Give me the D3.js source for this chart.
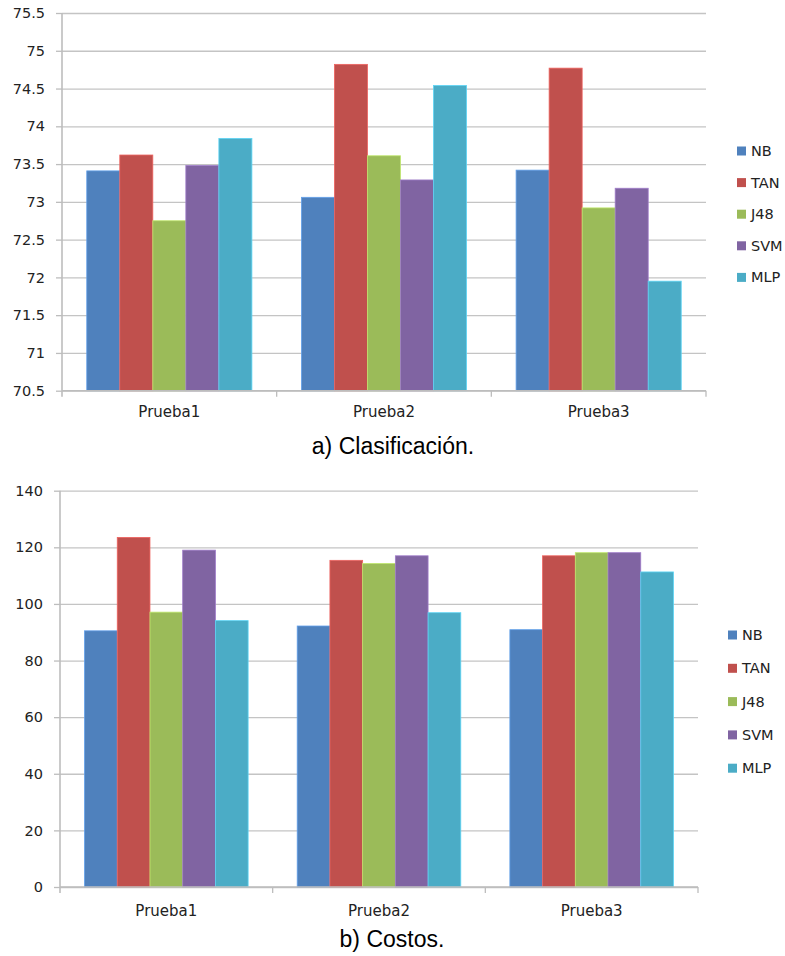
<!DOCTYPE html>
<html>
<head>
<meta charset="utf-8">
<script src="https://cdn.jsdelivr.net/npm/d3@7"></script>
<style>
  html, body { margin: 0; padding: 0; background: #fff; }
  svg { display: block; }
  .tick text { font-family: "DejaVu Sans", sans-serif; }
</style>
</head>
<body>
<svg id="chart" width="785" height="956"></svg>
<script>
// ---- Data ----
const categories = ["Prueba1", "Prueba2", "Prueba3"];
const seriesNames = ["NB", "TAN", "J48", "SVM", "MLP"];
const seriesColors = ["#4F81BD", "#C0504D", "#9BBB59", "#8064A2", "#4BACC6"];

// a) Clasificación
const clasifNB  = [73.41, 73.06, 73.42];
const clasifTAN = [73.62, 74.82, 74.77];
const clasifJ48 = [72.75, 73.61, 72.92];
const clasifSVM = [73.48, 73.29, 73.18];
const clasifMLP = [73.84, 74.54, 71.95];
const clasifTicks = [70.5, 71, 71.5, 72, 72.5, 73, 73.5, 74, 74.5, 75, 75.5];
const clasifTickLabels = ["70.5", "71", "71.5", "72", "72.5", "73", "73.5", "74", "74.5", "75", "75.5"];

// b) Costos
const costosNB  = [90.5, 92.2, 90.9];
const costosTAN = [123.5, 115.4, 117.0];
const costosJ48 = [97.1, 114.3, 118.1];
const costosSVM = [119.0, 117.0, 118.1];
const costosMLP = [94.1, 96.9, 111.3];
const costosTicks = [0, 20, 40, 60, 80, 100, 120, 140];
const costosTickLabels = ["0", "20", "40", "60", "80", "100", "120", "140"];

const captionA = "a) Clasificación.";
const captionB = "b) Costos.";

// ---- Drawing ----
const svg = d3.select("#chart");
const textColor = "#222";

function drawChart(opts) {
  const g = svg.append("g");
  const x0 = d3.scaleBand().domain(categories).range([opts.left, opts.right]).padding(0);
  const x1 = d3.scaleBand().domain(seriesNames).range([0, x0.bandwidth()])
    .paddingInner(0).paddingOuter(0.75);
  const y = d3.scaleLinear().domain(opts.domain).range([opts.bottom, opts.top]);

  // gridlines
  g.append("g")
    .attr("transform", `translate(${opts.left},0)`)
    .call(d3.axisLeft(y).tickValues(opts.ticks).tickSize(-(opts.right - opts.left)).tickFormat(""))
    .call(s => s.select(".domain").remove())
    .call(s => s.selectAll("line").attr("stroke", "#c4c4c4").attr("stroke-width", 1.3));

  // bars
  const seriesData = opts.values.map((vals, si) => ({ name: seriesNames[si], color: seriesColors[si], vals }));
  const groups = g.append("g").selectAll("g")
    .data(seriesData).join("g");
  groups.selectAll("rect")
    .data(d => d.vals.map((v, ci) => ({ v, cat: categories[ci], name: d.name, color: d.color })))
    .join("rect")
    .attr("x", d => x0(d.cat) + x1(d.name))
    .attr("width", x1.bandwidth())
    .attr("y", d => y(d.v))
    .attr("height", d => y(opts.domain[0]) - y(d.v))
    .attr("fill", d => d.color)
    .attr("stroke", d => d3.color(d.color).brighter(0.6))
    .attr("stroke-width", 0.8);

  // y axis
  const yAxis = g.append("g")
    .attr("transform", `translate(${opts.left},0)`)
    .call(d3.axisLeft(y).tickValues(opts.ticks).tickSize(6).tickPadding(opts.tickPad)
      .tickFormat((d, i) => opts.tickLabels[i]));
  yAxis.select(".domain").attr("stroke", "#bdbdbd").attr("stroke-width", 1.6)
    .attr("d", `M0,${opts.bottom + 6}V${opts.top}`);
  yAxis.selectAll(".tick line").attr("stroke", "#bdbdbd").attr("stroke-width", 1.3);
  yAxis.selectAll(".tick text").attr("fill", textColor).attr("font-size", 14.5);

  // x axis baseline + ticks at band boundaries
  const xAxis = g.append("g").attr("transform", `translate(0,${opts.bottom})`)
    .call(d3.axisBottom(x0).tickSize(0).tickPadding(opts.catPad));
  xAxis.select(".domain").attr("stroke", "#bdbdbd").attr("stroke-width", 1.6)
    .attr("d", `M${opts.left},0H${opts.right}`);
  xAxis.selectAll(".tick text").attr("fill", textColor).attr("font-size", 15);
  const bounds = categories.map(c => x0(c) + x0.bandwidth());
  xAxis.selectAll(".bnd").data(bounds).join("line").attr("class", "bnd")
    .attr("x1", d => d).attr("x2", d => d).attr("y1", 0).attr("y2", 6)
    .attr("stroke", "#bdbdbd").attr("stroke-width", 1.3);

  // legend
  const leg = g.append("g").selectAll("g").data(seriesNames).join("g")
    .attr("transform", (d, i) => `translate(${opts.legX},${opts.legY + i * opts.legStep})`);
  leg.append("rect").attr("x", 0).attr("y", -4.5).attr("width", 9).attr("height", 9)
    .attr("fill", (d, i) => seriesColors[i]);
  leg.append("text").attr("x", 14).attr("y", 0).attr("dy", "0.35em")
    .attr("font-family", "DejaVu Sans, sans-serif").attr("font-size", 14.5).attr("fill", textColor)
    .text(d => d);

  // caption
  svg.append("text").attr("x", opts.capX).attr("y", opts.capY)
    .attr("text-anchor", "middle")
    .attr("font-family", "Liberation Sans, Arial, sans-serif").attr("font-size", 23).attr("fill", "#000")
    .text(opts.caption);
}

drawChart({
  left: 62, right: 706, top: 13, bottom: 390.7,
  domain: [70.5, 75.5], ticks: clasifTicks, tickLabels: clasifTickLabels, tickPad: 11,
  values: [clasifNB, clasifTAN, clasifJ48, clasifSVM, clasifMLP],
  catPad: 16,
  legX: 737, legY: 151, legStep: 31.6,
  caption: captionA, capX: 393, capY: 454
});

drawChart({
  left: 60, right: 698, top: 490.7, bottom: 887,
  domain: [0, 140], ticks: costosTicks, tickLabels: costosTickLabels, tickPad: 11,
  values: [costosNB, costosTAN, costosJ48, costosSVM, costosMLP],
  catPad: 18,
  legX: 728, legY: 635, legStep: 33.3,
  caption: captionB, capX: 392, capY: 947
});
</script>
</body>
</html>
